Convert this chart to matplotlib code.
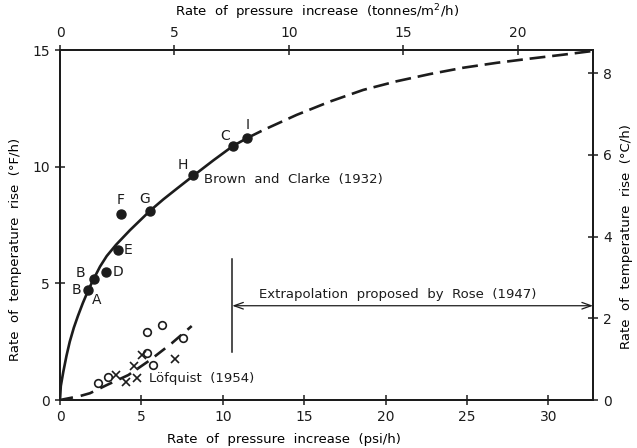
import matplotlib
matplotlib.use("Agg")
import matplotlib.pyplot as plt

# Brown and Clarke (1932) points, psi/h vs degF/h
bc_psi = [1.74, 2.07, 2.83, 3.58, 3.73, 5.55, 8.17, 10.63, 11.51]
bc_degf = [4.71, 5.19, 5.47, 6.44, 7.97, 8.11, 9.63, 10.89, 11.23]
bc_names = ["A", "B", "D", "E", "F", "G", "H", "C", "I"]
bc_offsets = [(8, -10), (-13, 6), (12, 0), (10, 0), (0, 14), (-6, 12), (-10, 10), (-8, 10), (0, 13)]

# fitted curve through the points (solid part) and its extension (dashed)
curve_psi = [0, 0.05, 0.2, 0.4, 0.6, 0.85, 1.1, 1.4, 1.74, 2.07, 2.46, 2.87, 3.44, 4.30,
             5.53, 6.35, 7.2, 8.17, 9.42, 10.63, 11.51]
curve_degf = [0, 0.6, 1.2, 1.9, 2.5, 3.1, 3.6, 4.15, 4.71, 5.19, 5.72, 6.17, 6.65, 7.28,
              8.11, 8.6, 9.07, 9.6, 10.27, 10.89, 11.23]
ext_psi = [11.51, 12.49, 14.54, 16.58, 18.63, 20.68, 22.73, 24.77, 26.82, 28.87, 30.92, 32.74]
ext_degf = [11.23, 11.57, 12.22, 12.79, 13.29, 13.66, 13.97, 14.24, 14.45, 14.63, 14.8, 14.96]

# Lofquist (1954)
lq_o_psi = [2.35, 2.97, 5.32, 6.24, 5.36, 5.73, 7.57]
lq_o_degf = [0.71, 0.97, 2.93, 3.21, 2.0, 1.5, 2.64]
lq_x_psi = [3.44, 4.05, 4.71, 4.56, 5.02, 7.06]
lq_x_degf = [1.07, 0.78, 0.93, 1.45, 1.93, 1.74]
lq_line_psi = [0, 1.23, 1.84, 2.87, 4.2, 5.53, 6.86, 8.09]
lq_line_degf = [0, 0.17, 0.29, 0.64, 1.07, 1.71, 2.43, 3.17]

# Rose (1947) extrapolation marker
rose_psi = 10.58
rose_bar = (2.07, 6.03)
rose_arrow_degf = 4.04

psi_ticks = [0, 5, 10, 15, 20, 25, 30]
degf_ticks = [0, 5, 10, 15]
tonne_ticks = [0, 5, 10, 15, 20]
degc_ticks = [0, 2, 4, 6, 8]

ink = "#1c1c1c"
plt.rcParams["font.family"] = ["DejaVu Sans"]
plt.rcParams["font.size"] = 9.5
plt.rcParams["text.color"] = ink

fig = plt.figure(figsize=(6.37, 4.48), dpi=100)
ax = fig.add_axes([60 / 637, 48 / 448, 533 / 637, 350 / 448])
ax.set_xlim(0, 32.74)
ax.set_ylim(0, 15)

ax.plot(curve_psi, curve_degf, color=ink, lw=1.9, solid_capstyle="butt", solid_joinstyle="round")
ax.plot(ext_psi, ext_degf, color=ink, lw=1.9, ls=(0, (6, 2.6)))
ax.plot(bc_psi, bc_degf, "o", color=ink, ms=6.5)
for x, y, name, off in zip(bc_psi, bc_degf, bc_names, bc_offsets):
    ax.annotate(name, (x, y), xytext=off, textcoords="offset pixels",
                ha="center", va="center", fontsize=10)
ax.annotate("B", (bc_psi[0], bc_degf[0]), xytext=(-12, 0), textcoords="offset pixels",
            ha="center", va="center", fontsize=10)
ax.text(8.85, 9.43, "Brown  and  Clarke  (1932)", ha="left", va="center")

ax.plot(lq_line_psi, lq_line_degf, color=ink, lw=1.9, ls=(0, (5, 3)))
ax.plot(lq_o_psi, lq_o_degf, "o", mfc="white", mec=ink, ms=5.5, mew=1.2)
ax.plot(lq_x_psi, lq_x_degf, "x", color=ink, ms=5.5, mew=1.2)
ax.text(5.47, 0.91, "Löfquist  (1954)", ha="left", va="center")

ax.plot([rose_psi, rose_psi], rose_bar, color=ink, lw=1.1)
ax.annotate("", xy=(32.74, rose_arrow_degf), xytext=(rose_psi, rose_arrow_degf),
            arrowprops=dict(arrowstyle="<->,head_length=0.7,head_width=0.25",
                            color=ink, lw=0.9, shrinkA=0, shrinkB=0))
ax.text(20.76, 4.53, "Extrapolation  proposed  by  Rose  (1947)", ha="center", va="center")

ax.set_xticks(psi_ticks)
ax.set_yticks(degf_ticks)
ax.set_xlabel("Rate  of  pressure  increase  (psi/h)")
ax.xaxis.set_label_coords(0.42, -0.095)
ax.set_ylabel("Rate  of  temperature  rise  (°F/h)")
ax.yaxis.set_label_coords(-0.072, 0.43)

top = ax.twiny()
top.set_xlim(0, 23.3)
top.set_xticks(tonne_ticks)
top.set_xlabel("Rate  of  pressure  increase  (tonnes/m$^2$/h)")
top.xaxis.set_label_coords(0.483, 1.095)

right = ax.twinx()
right.set_ylim(0, 8.57)
right.set_yticks(degc_ticks)
right.set_ylabel("Rate  of  temperature  rise  (°C/h)", rotation=90)
right.yaxis.set_label_coords(1.05, 0.466)

for a in (ax, top, right):
    for s in a.spines.values():
        s.set_linewidth(1.4)
        s.set_color(ink)
    a.tick_params(direction="inout", length=7, width=1.1, color=ink,
                  labelcolor=ink, labelsize=10, pad=4)

fig.savefig("out.png", dpi=100, facecolor="white")
